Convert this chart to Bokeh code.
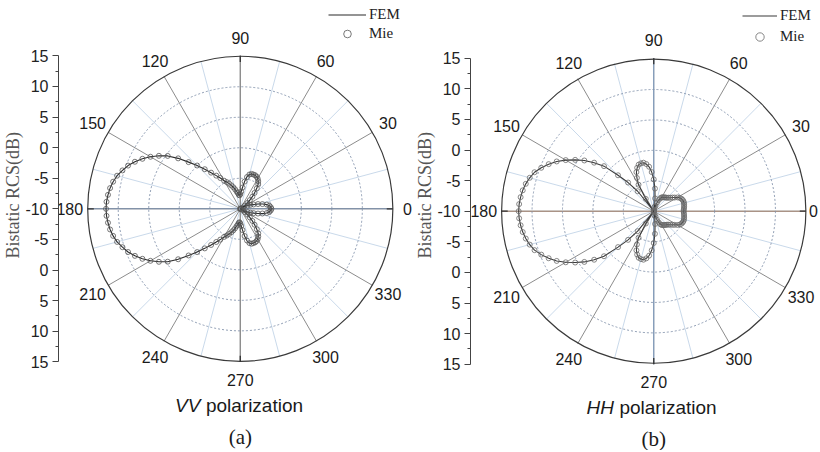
import numpy as np
from bokeh.plotting import figure
from bokeh.layouts import row
from bokeh.models import Range1d, LinearAxis, FixedTicker, Legend, LegendItem, Title
from bokeh.core.properties import value
from bokeh.embed import file_html
from bokeh.resources import INLINE

# ---------------- data ----------------
angles_half = list(range(0, 181, 3))          # scattering angle, degrees (pattern symmetric about 0-180)

vv_fem_half = [-4.9, -5.0, -5.2, -5.6, -6.2, -7.0, -7.7, -8.2, -8.7, -9.4,
               -11.0, -9.8, -9.1, -8.5, -7.9, -7.2, -6.5, -5.7, -5.0, -4.6,
               -4.3, -4.1, -4.0, -4.0, -4.0, -4.2, -4.6, -5.5, -6.5, -7.2,
               -7.6, -7.8, -7.7, -7.4, -7.1, -6.7, -6.3, -5.9, -5.5, -5.1,
               -4.7, -4.0, -3.3, -2.4, -1.3, 0.0, 1.4, 3.1, 4.7, 5.9,
               7.0, 8.0, 8.9, 9.7, 10.3, 10.9, 11.3, 11.6, 11.8, 11.95, 12.0]
vv_mie_half = [-4.9, -5.0, -5.2, -5.6, -6.3, -7.0, -7.7, -8.2, -8.7, -9.5,
               -11.0, -9.9, -9.1, -8.5, -7.9, -7.2, -6.5, -5.7, -5.0, -4.6,
               -4.3, -4.1, -4.0, -4.0, -4.0, -4.2, -4.7, -5.5, -6.5, -7.2,
               -7.6, -7.8, -7.7, -7.4, -7.1, -6.7, -6.3, -5.9, -5.5, -5.1,
               -4.7, -4.0, -3.3, -2.4, -1.3, 0.0, 1.4, 3.1, 4.7, 5.9,
               7.0, 8.0, 8.9, 9.7, 10.3, 10.9, 11.3, 11.6, 11.8, 11.95, 12.0]

hh_fem_half = [-5.1, -5.05, -5.0, -4.95, -4.9, -4.85, -4.85, -4.9, -5.0, -5.2,
               -5.5, -5.9, -6.2, -6.5, -6.7, -6.9, -7.0, -7.1, -7.2, -7.3,
               -7.4, -7.6, -8.0, -8.5, -9.1, -9.8, -10.8, -9.3, -7.9, -6.3,
               -4.8, -3.6, -2.7, -2.2, -1.9, -1.9, -2.0, -2.4, -3.0, -3.9,
               -5.0, -7.6, -10.8, -5.8, -3.7, -1.7, 1.0, 2.6, 4.1, 5.4,
               6.7, 7.9, 8.9, 9.8, 10.6, 11.1, 11.5, 11.8, 12.0, 12.15, 12.2]
hh_mie_half = [-5.1, -5.05, -5.0, -4.95, -4.9, -4.85, -4.85, -4.9, -5.0, -5.2,
               -5.5, -5.9, -6.2, -6.5, -6.7, -6.9, -7.0, -7.1, -7.2, -7.3,
               -7.4, -7.6, -8.0, -8.5, -9.1, -9.8, -10.8, -9.3, -7.9, -6.3,
               -4.8, -3.6, -2.7, -2.2, -1.9, -1.9, -2.0, -2.4, -3.0, -3.9,
               -5.0, -7.6, -10.8, -5.8, -3.7, -1.7, 1.0, 2.6, 4.1, 5.4,
               6.7, 7.9, 8.9, 9.8, 10.6, 11.1, 11.5, 11.8, 12.0, 12.15, 12.2]

r_min_db = -10                     # dB at the centre
r_max_db = 15                      # dB at the outer circle
grid_db = [-5, 0, 5, 10]           # dotted rings
angle_ticks = [0, 30, 60, 90, 120, 150, 180, 210, 240, 270, 300, 330]
minor_angle_ticks = [15, 45, 75, 105, 135, 165, 195, 225, 255, 285, 315, 345]
radial_tick_labels = ["15", "10", "5", "0", "-5", "-10", "-5", "0", "5", "10", "15"]
axis_title = "Bistatic RCS(dB)"

# ---------------- helpers ----------------
S = 6.12                      # pixels per dB
R = r_max_db - r_min_db       # outer radius in data units
H = 450

angles_full = angles_half + [360 - a for a in angles_half[-2:0:-1]]


def full(half):
    return half + half[-2:0:-1]


def polar_xy(ang, db, close=False):
    ang = list(ang)
    db = list(db)
    if close:
        ang = ang + ang[:1]
        db = db + db[:1]
    r = np.clip(np.asarray(db, dtype=float) - r_min_db, 0, None)
    t = np.radians(np.asarray(ang, dtype=float))
    return r * np.cos(t), r * np.sin(t)


def make_panel(W, fem_half, mie_half, pol, letter, border_left, cx_px, cy_px,
               hcolor, vcolor, line_col, mk_col, leg_x, leg_y, glyph_w, glyph_h):
    fw = W - border_left
    x_end = (fw - cx_px) / S
    xr = Range1d(-cx_px / S, x_end)
    yr = Range1d(-(H - cy_px) / S, cy_px / S)
    p = figure(width=W, height=H, x_range=xr, y_range=yr, output_backend="svg",
               toolbar_location=None, x_axis_location=None, y_axis_location=None,
               min_border_left=border_left, min_border_right=0, min_border_top=0,
               min_border_bottom=0, outline_line_color=None,
               background_fill_color="white", border_fill_color="white")
    p.grid.visible = False

    # spokes
    t = np.radians(minor_angle_ticks)
    p.segment(x0=0, y0=0, x1=R * np.cos(t), y1=R * np.sin(t), line_color="#c3d5e8", line_width=0.9)
    t = np.radians(angle_ticks)
    p.segment(x0=0, y0=0, x1=R * np.cos(t), y1=R * np.sin(t), line_color="#8c8c8c", line_width=1)
    p.segment(x0=[-R], y0=[0], x1=[R], y1=[0], line_color=hcolor, line_width=1.1)
    p.segment(x0=[0], y0=[-R], x1=[0], y1=[R], line_color=vcolor, line_width=1.1)

    # rings
    p.circle(x=[0] * len(grid_db), y=[0] * len(grid_db),
             radius=[g - r_min_db for g in grid_db], fill_color=None,
             line_color="#8393ab", line_dash="2 2", line_width=0.9)
    p.circle(x=[0], y=[0], radius=[R], fill_color=None, line_color="#3a3a3a", line_width=1.2)
    tt = np.radians([0, 90, 180, 270])
    p.segment(x0=(R - 1) * np.cos(tt), y0=(R - 1) * np.sin(tt), x1=R * np.cos(tt), y1=R * np.sin(tt),
              line_color="#333333", line_width=1.3)

    # angle labels
    lab_r = 171 / S
    lx = np.minimum(lab_r * np.cos(t), x_end - 5 / S)
    p.text(x=lx, y=lab_r * np.sin(t), text=[str(a) for a in angle_ticks],
           text_align="center", text_baseline="middle", text_font=value("Liberation Sans"),
           text_font_size="16px", text_color="#1a1a1a")

    # data
    fx, fy = polar_xy(angles_full, full(fem_half), close=True)
    fem_r = p.line(fx, fy, line_color=line_col, line_width=1.1)
    mx, my = polar_xy(angles_full, full(mie_half))
    mie_r = p.scatter(mx, my, marker="circle", size=5, fill_color=None,
                      line_color=mk_col, line_width=0.8)

    # legend
    leg = Legend(items=[LegendItem(label="FEM", renderers=[fem_r]),
                        LegendItem(label="Mie", renderers=[mie_r])],
                 location=(leg_x, leg_y), orientation="vertical",
                 padding=0, margin=0, spacing=0, glyph_width=glyph_w, glyph_height=glyph_h,
                 label_height=glyph_h, label_standoff=3, border_line_color=None,
                 background_fill_alpha=0, label_text_font="Liberation Serif",
                 label_text_font_size="15px", label_text_color="#222222")
    p.add_layout(leg, "center")

    # radial axis
    tick_pos = [R - 5 * i for i in range(len(radial_tick_labels))]
    minor_pos = [v - 2.5 for v in tick_pos[:-1]]
    ax = LinearAxis(ticker=FixedTicker(ticks=tick_pos, minor_ticks=minor_pos), bounds=(-R, R),
                    major_label_overrides={v: l for v, l in zip(tick_pos, radial_tick_labels)},
                    axis_line_color="#444444", axis_line_width=1,
                    major_tick_line_color="#444444", major_tick_out=6, major_tick_in=0,
                    minor_tick_line_color="#444444", minor_tick_out=3, minor_tick_in=0,
                    major_label_text_font="Liberation Sans", major_label_text_font_size="16px",
                    major_label_text_color="#222222", major_label_standoff=4)
    p.add_layout(ax, "left")

    # axis title, rotated, its text starting ~258 px from the top of the panel
    p.add_layout(Title(text=axis_title, align="left", offset=H - 258,
                       text_font="Liberation Serif", text_font_style="normal",
                       text_font_size="18px", text_color="#555555", standoff=0), "left")

    # captions
    pol_y = -196.7 / S
    split = -40 / S
    p.text(x=[split], y=[pol_y], text=[pol], text_align="right", text_baseline="middle",
           text_font=value("Liberation Sans"), text_font_style="italic",
           text_font_size="19px", text_color="#1a1a1a")
    p.text(x=[split + 5.5 / S], y=[pol_y], text=["polarization"], text_align="left",
           text_baseline="middle", text_font=value("Liberation Sans"),
           text_font_size="19px", text_color="#1a1a1a")
    p.text(x=[0], y=[-228 / S], text=[letter], text_align="center", text_baseline="middle",
           text_font=value("Liberation Serif"), text_font_size="21px", text_color="#1a1a1a")
    return p


pa = make_panel(412, vv_fem_half, vv_mie_half, "VV", "(a)", 57, 182.3, 208.3,
                "#7389a6", "#8a8a8a", "#2a2a2a", "#555555", 270, 407, 38, 19)
pb = make_panel(406, hh_fem_half, hh_mie_half, "HH", "(b)", 56, 184.3, 210.7,
                "#a88a78", "#7f9cc0", "#3a3a3a", "#6a6a6a", 272, 403, 35, 21)

layout = row(pa, pb)
open("out.html", "w").write(file_html(layout, INLINE))
